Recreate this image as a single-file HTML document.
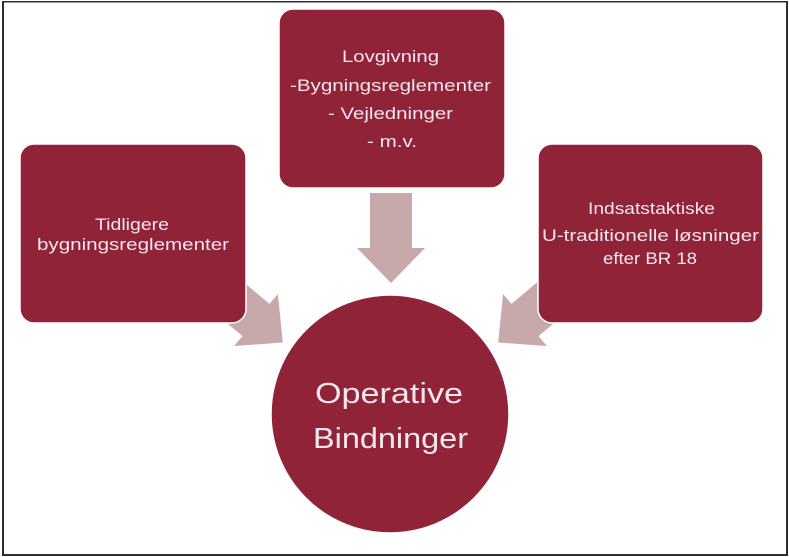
<!DOCTYPE html>
<html>
<head>
<meta charset="utf-8">
<style>
  html, body { margin:0; padding:0; background:#fff; }
  body { width:789px; height:557px; overflow:hidden; }
  svg { display:block; }
  text { font-family: "Liberation Sans", "DejaVu Sans", sans-serif; fill:#F3E6EC; }
</style>
</head>
<body>
<svg width="789" height="557" viewBox="0 0 789 557" xmlns="http://www.w3.org/2000/svg">
  <rect x="0" y="0" width="789" height="557" fill="#ffffff"/>
  <!-- frame -->
  <rect x="2" y="1" width="2" height="555" fill="#2e2e2e"/>
  <rect x="2" y="1" width="786" height="1.5" fill="#2e2e2e"/>
  <rect x="786" y="1" width="2" height="555" fill="#2e2e2e"/>
  <rect x="2" y="554" width="786" height="2" fill="#2e2e2e"/>

  <!-- arrows -->
  <g fill="#C7A8AB">
    <polygon points="370,193 412,193 412,248 425,248 391,283 357,248 370,248"/>
    <polygon points="227.4,268.5 269.5,303.9 277.9,294 282.8,342.5 234.1,346 242.5,336.1 200.4,300.7"/>
    <polygon points="553.6,268.5 511.5,303.9 503.1,294 498.2,342.5 546.9,346 538.5,336.1 580.6,300.7"/>
  </g>

  <!-- boxes -->
  <g fill="#912338" stroke="#ffffff" stroke-width="1.5">
    <rect x="279" y="9" width="226" height="179" rx="14" ry="14"/>
    <rect x="20" y="144" width="226" height="179" rx="14" ry="14"/>
    <rect x="538" y="144" width="225" height="179" rx="14" ry="14"/>
    <circle cx="390" cy="414" r="119"/>
  </g>

  <!-- top box text -->
  <g font-size="17">
    <text x="342" y="62" textLength="97" lengthAdjust="spacingAndGlyphs">Lovgivning</text>
    <text x="290" y="91" textLength="201" lengthAdjust="spacingAndGlyphs">-Bygningsreglementer</text>
    <text x="328" y="119" textLength="125" lengthAdjust="spacingAndGlyphs">- Vejledninger</text>
    <text x="367" y="147" textLength="50" lengthAdjust="spacingAndGlyphs">- m.v.</text>
  </g>

  <!-- left box text -->
  <g font-size="17">
    <text x="95" y="230" textLength="74" lengthAdjust="spacingAndGlyphs">Tidligere</text>
    <text x="37" y="250" textLength="192" lengthAdjust="spacingAndGlyphs">bygningsreglementer</text>
  </g>

  <!-- right box text -->
  <g font-size="17">
    <text x="588" y="214" textLength="127" lengthAdjust="spacingAndGlyphs">Indsatstaktiske</text>
    <text x="542" y="241" textLength="217" lengthAdjust="spacingAndGlyphs">U-traditionelle løsninger</text>
    <text x="603" y="264" textLength="94" lengthAdjust="spacingAndGlyphs">efter BR 18</text>
  </g>

  <!-- circle text -->
  <g font-size="29">
    <text x="315" y="403" textLength="148" lengthAdjust="spacingAndGlyphs">Operative</text>
    <text x="313" y="448" textLength="155" lengthAdjust="spacingAndGlyphs">Bindninger</text>
  </g>
</svg>
</body>
</html>
